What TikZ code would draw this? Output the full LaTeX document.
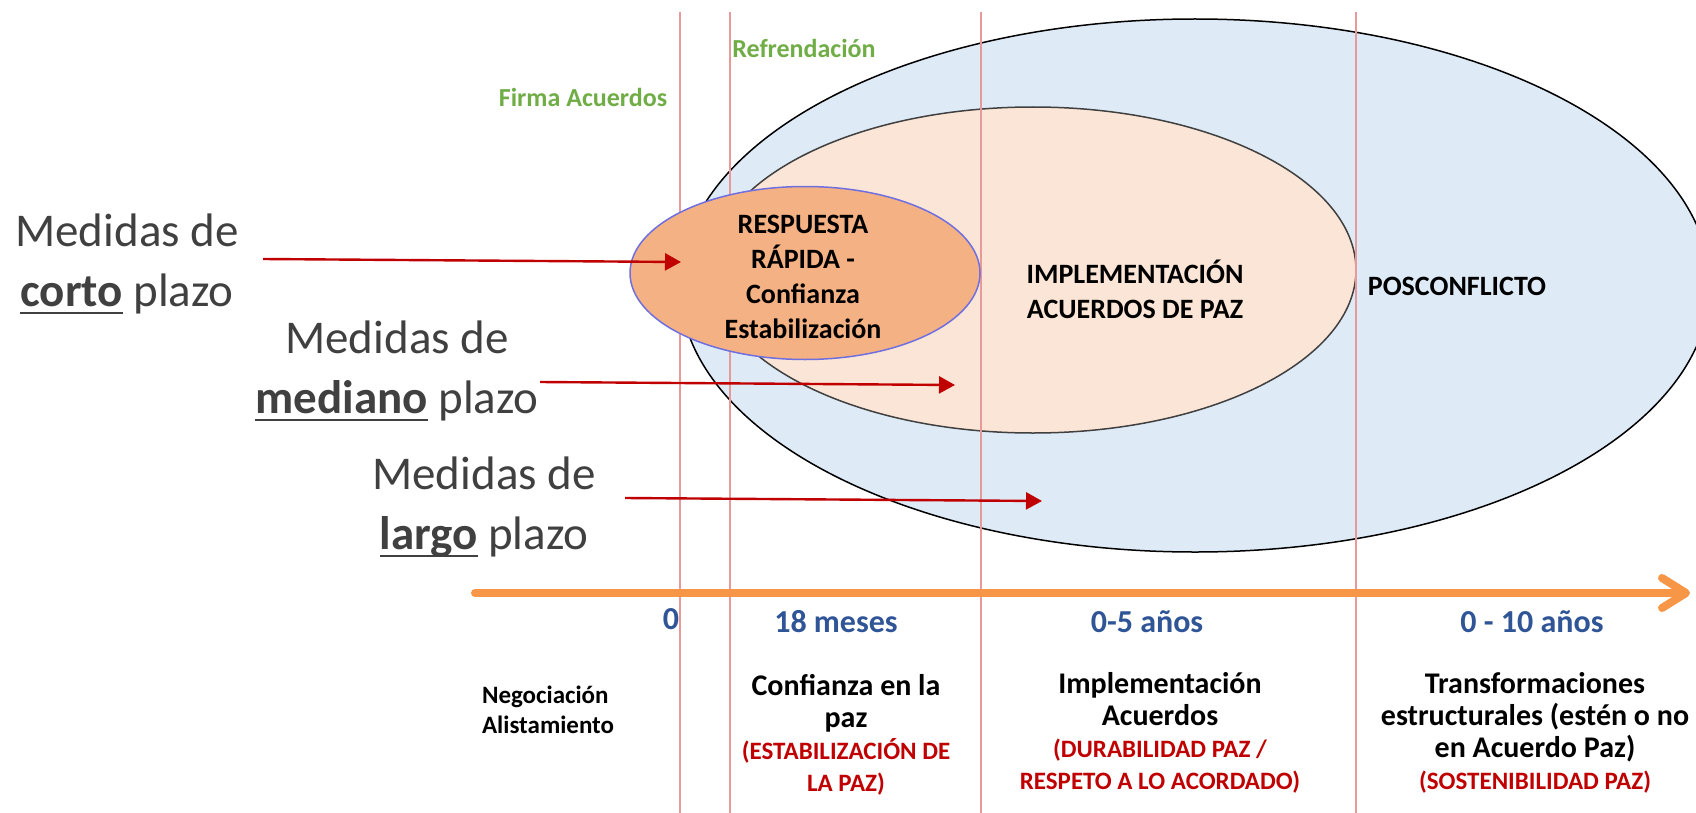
\documentclass[tikz,border=0pt]{standalone}
\usepackage{fontspec}
\setmainfont{Carlito}
\usepackage{tikz}
\usetikzlibrary{arrows.meta}

\definecolor{posazul}{HTML}{DEEBF7}
\definecolor{implrosa}{HTML}{FBE5D6}
\definecolor{respnaranja}{HTML}{F4B183}
\definecolor{respborde}{HTML}{6F6FE0}
\definecolor{flecha}{HTML}{C00000}
\definecolor{corte}{HTML}{E89A9A}
\definecolor{eje}{HTML}{F79646}
\definecolor{verde}{HTML}{70AD47}
\definecolor{azul}{HTML}{2F5597}
\definecolor{gris}{HTML}{404040}
\definecolor{rojo}{HTML}{C00000}

\newcommand{\subrayar}[1]{\setbox0\hbox{#1}\rlap{\rule[-4pt]{\wd0}{1.3pt}}\box0\relax}

\begin{document}
\begin{tikzpicture}[x=0.5pt, y=-0.5pt,
  medidas/.style = {align=center, text=gris, font=\fontsize{23.5}{30}\selectfont},
  plazo/.style = {draw=flecha, line width=1.2pt, -{Triangle[length=8pt,width=8.5pt]}},
  hito/.style = {text=verde, font=\bfseries\fontsize{13}{15}\selectfont},
  tiempo/.style = {text=azul, font=\bfseries\fontsize{16}{19}\selectfont},
  etapa/.style = {align=center, font=\bfseries\fontsize{15}{16}\selectfont},
  fase/.style = {align=center, font=\bfseries\fontsize{14}{17.5}\selectfont}]

\useasboundingbox (0,0) rectangle (1696,813);

% elipses
\draw[fill=posazul, line width=0.75pt] (1195,285.5) ellipse [x radius=515, y radius=266.5];
\draw[fill=implrosa, draw=gris, line width=0.75pt] (1033,270) ellipse [x radius=323, y radius=163];

% cortes de tiempo
\foreach \x in {680,730,981,1356}
  \draw[corte, line width=0.8pt] (\x,12) -- (\x,813);

\draw[fill=respnaranja, draw=respborde, line width=0.75pt] (805,273) ellipse [x radius=175, y radius=86.5];

\node[fase] (respuesta) at (803,277) {RESPUESTA\\RÁPIDA -\\Confianza\\Estabilización};
\node[fase] (implementacion) at (1135,289) {IMPLEMENTACIÓN\\ACUERDOS DE PAZ};
\node[fase] (posconflicto) at (1457,286) {POSCONFLICTO};

\node[hito] (firma) at (583,97) {Firma Acuerdos};
\node[hito] (refrendacion) at (804,48) {Refrendación};

% medidas
\node[medidas] (corto) at (127,264) {Medidas de\\\subrayar{\textbf{corto}} plazo};
\node[medidas] (mediano) at (397,371) {Medidas de\\\subrayar{\textbf{mediano}} plazo};
\node[medidas] (largo) at (484,507) {Medidas de\\\subrayar{\textbf{largo}} plazo};

\coordinate (cortoIni) at (263,259);
\coordinate (cortoFin) at (681,262);
\coordinate (medianoIni) at (540,382);
\coordinate (medianoFin) at (955,385);
\coordinate (largoIni) at (625,498);
\coordinate (largoFin) at (1042,501);

\draw[plazo] (cortoIni) -- (cortoFin);
\draw[plazo] (medianoIni) -- (medianoFin);
\draw[plazo] (largoIni) -- (largoFin);

% linea de tiempo
\coordinate (ejeIni) at (475,593);
\coordinate (ejeFin) at (1690,593);
\draw[eje, line width=4pt, line cap=round, -{Straight Barb[length=12pt,width=15pt,round]}] (ejeIni) -- (ejeFin);

\node[tiempo] (t0) at (671,619) {0};
\node[tiempo] (t18) at (836,622) {18 meses};
\node[tiempo] (t5) at (1147,622) {0-5 años};
\node[tiempo] (t10) at (1532,622) {0 - 10 años};

\node[anchor=west, align=left, font=\bfseries\fontsize{12.5}{15}\selectfont] (negociacion) at (475,710) {Negociación\\Alistamiento};
\node[etapa] (confianza) at (846,735) {Confianza en la\\paz\\{\color{rojo}\fontsize{12.5}{16}\selectfont(ESTABILIZACIÓN DE}\\{\color{rojo}\fontsize{12.5}{16}\selectfont LA PAZ)}};
\node[etapa] (acuerdos) at (1160,733) {Implementación\\Acuerdos\\{\color{rojo}\fontsize{12.5}{16}\selectfont(DURABILIDAD PAZ /}\\{\color{rojo}\fontsize{12.5}{16}\selectfont RESPETO A LO ACORDADO)}};
\node[etapa] (transformaciones) at (1535,733) {Transformaciones\\estructurales (estén o no\\en Acuerdo Paz)\\{\color{rojo}\fontsize{12.5}{16}\selectfont(SOSTENIBILIDAD PAZ)}};

\end{tikzpicture}
\end{document}
